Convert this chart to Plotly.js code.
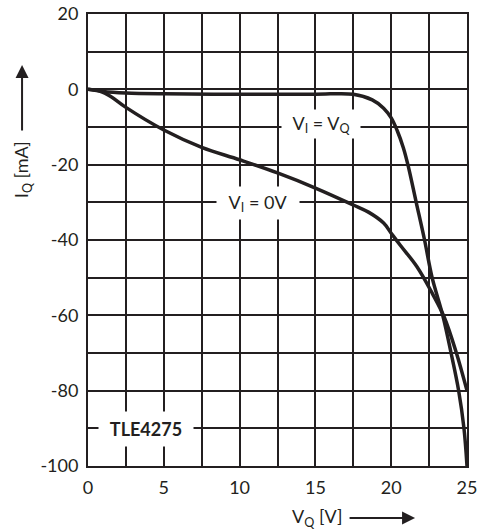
<!DOCTYPE html>
<html>
<head>
<meta charset="utf-8">
<script src="https://cdn.plot.ly/plotly-3.0.1.min.js"></script>
<style>html,body{margin:0;padding:0;background:#fff;}#chart{width:479px;height:531px;}</style>
</head>
<body>
<div id="chart"></div>
<script>
// V_I = V_Q curve
const vqEqual = [0, 1, 2.5, 5, 10, 15, 17.5, 18.75, 19.5, 20, 20.4, 20.8, 21.1, 21.65, 22.2, 22.7, 23.4, 23.95, 24.45, 24.8, 25];
const iqEqual = [0, -0.6, -1.0, -1.2, -1.3, -1.3, -1.3, -2.8, -5, -7.6, -11, -15.5, -20, -30, -40, -50, -60, -70, -80, -90, -100];
// V_I = 0V curve
const vqZero = [0, 0.8, 1.5, 2.5, 5, 7.5, 10, 12.5, 15, 17.5, 18.5, 19.5, 20, 20.6, 21.7, 22.7, 23.5, 24.3, 25];
const iqZero = [0, -0.5, -1.9, -4.8, -10.8, -15.4, -18.7, -22.2, -26.2, -30.7, -32.6, -35.5, -38.2, -41.4, -47.1, -54.1, -60.5, -70, -80];

// axis ticks
const xTickVals = [0, 2.5, 5, 7.5, 10, 12.5, 15, 17.5, 20, 22.5, 25];
const xTickText = ['0', '', '5', '', '10', '', '15', '', '20', '', '25'];
const yTickVals = [20, 10, 0, -10, -20, -30, -40, -50, -60, -70, -80, -90, -100];
const yTickText = ['20', '', '0', '', '-20', '', '-40', '', '-60', '', '-80', '', '-100'];

const labelEqual = 'V<sub>I</sub> = V<sub>Q</sub>';
const labelZero = 'V<sub>I</sub> = 0V';
const labelDevice = '<b>TLE4275</b>';
const xTitle = 'V<sub>Q</sub> [V]';
const yTitle = 'I<sub>Q</sub> [mA]';

const ink = '#231f20';
const font = 'Lato, "Noto Sans", sans-serif';

const traces = [
  {x: vqEqual, y: iqEqual, mode: 'lines', line: {color: ink, width: 3.5, shape: 'spline', smoothing: 1}, hoverinfo: 'skip'},
  {x: vqZero, y: iqZero, mode: 'lines', line: {color: ink, width: 3.5, shape: 'spline', smoothing: 1}, hoverinfo: 'skip'}
];

const layout = {
  width: 479, height: 531,
  margin: {l: 88, r: 12, t: 14, b: 65},
  paper_bgcolor: '#fff', plot_bgcolor: '#fff',
  showlegend: false,
  font: {family: font, size: 18, color: ink},
  xaxis: {
    range: [0, 25], tickmode: 'array', tickvals: xTickVals, ticktext: xTickText,
    showgrid: true, gridcolor: ink, gridwidth: 2,
    zeroline: false, showline: true, linecolor: ink, linewidth: 2, mirror: true,
    ticks: '', ticklabelstandoff: 4, tickfont: {family: font, size: 18, color: ink}, fixedrange: true
  },
  yaxis: {
    range: [-100, 20], tickmode: 'array', tickvals: yTickVals, ticktext: yTickText,
    showgrid: true, gridcolor: ink, gridwidth: 2,
    zeroline: false, showline: true, linecolor: ink, linewidth: 2, mirror: true,
    ticks: '', ticklabelstandoff: 4, tickfont: {family: font, size: 18, color: ink}, fixedrange: true
  },
  annotations: [
    {x: 15.4, y: -9.3, xref: 'x', yref: 'y', text: labelEqual, showarrow: false, bgcolor: '#fff', width: 76, height: 26, font: {family: font, size: 18, color: ink}},
    {x: 11.2, y: -30.2, xref: 'x', yref: 'y', text: labelZero, showarrow: false, bgcolor: '#fff', width: 80, height: 30, font: {family: font, size: 18, color: ink}},
    {x: 3.8, y: -90.2, xref: 'x', yref: 'y', text: labelDevice, showarrow: false, bgcolor: '#fff', width: 92, height: 32, font: {family: font, size: 18, color: ink}},
    {x: 0.604, y: -0.115, xref: 'paper', yref: 'paper', xanchor: 'center', yanchor: 'middle', text: xTitle, showarrow: false, font: {family: font, size: 18, color: ink}},
    {x: -0.171, y: 0.655, xref: 'paper', yref: 'paper', xanchor: 'center', yanchor: 'middle', text: yTitle, textangle: -90, showarrow: false, font: {family: font, size: 18, color: ink}},
    {x: 0.863, y: -0.115, xref: 'paper', yref: 'paper', text: '', showarrow: true, ax: -67, ay: 0, arrowhead: 2, arrowsize: 1.3, arrowwidth: 2, arrowcolor: ink},
    {x: -0.174, y: 0.887, xref: 'paper', yref: 'paper', text: '', showarrow: true, ax: 0, ay: 67, arrowhead: 2, arrowsize: 1.3, arrowwidth: 2, arrowcolor: ink}
  ]
};

Plotly.newPlot('chart', traces, layout, {staticPlot: true, displayModeBar: false});
</script>
</body>
</html>
